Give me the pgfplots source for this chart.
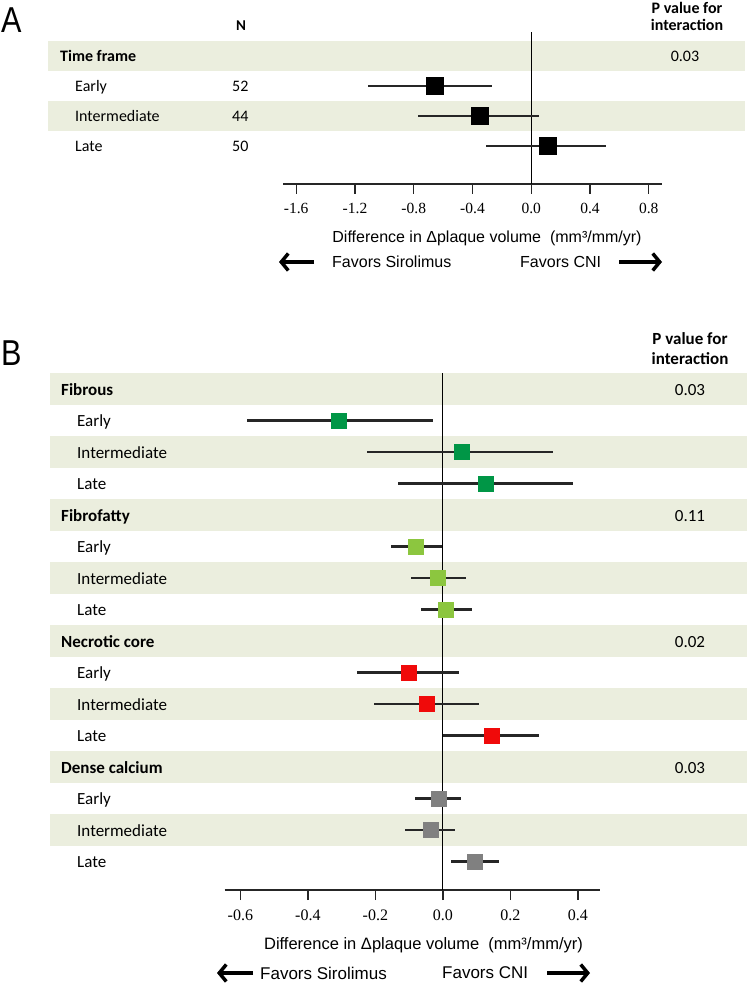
\documentclass[border=0pt]{standalone}
\usepackage{pgfplots}
\pgfplotsset{compat=1.18}
\usepackage{pgfplotstable}
\usepackage{fontspec}
\setmainfont{Carlito}
\newfontfamily\arialf{Liberation Sans}
\newfontfamily\tnrf{Liberation Serif}
\usetikzlibrary{arrows.meta}
\definecolor{band}{RGB}{235,238,222}
\definecolor{dgreen}{RGB}{0,150,70}
\definecolor{lgreen}{RGB}{140,198,63}
\definecolor{nred}{RGB}{240,10,10}
\definecolor{cgray}{RGB}{128,128,128}

% Panel A: time frame (y = -row index)
\pgfplotstableread{
x     y   em    ep
-0.66 -1  0.45  0.39
-0.35 -2  0.42  0.40
0.11  -3  0.42  0.40
}\dataA
% Panel B
\pgfplotstableread{
x      y    em     ep
-0.310 -1   0.270  0.280
0.055  -2   0.280  0.272
0.126  -3   0.260  0.260
}\fibrous
\pgfplotstableread{
x      y    em     ep
-0.081 -5   0.073  0.078
-0.014 -6   0.081  0.082
0.007  -7   0.072  0.079
}\fibrofatty
\pgfplotstableread{
x      y    em     ep
-0.102 -9   0.153  0.149
-0.049 -10  0.155  0.155
0.146  -11  0.146  0.138
}\necrotic
\pgfplotstableread{
x      y    em     ep
-0.013 -13  0.071  0.068
-0.035 -14  0.078  0.072
0.093  -15  0.068  0.074
}\calcium

\pgfplotsset{
  forest/.style={
    scale only axis, clip=false,
    axis x line=bottom, axis y line=none,
    x axis line style={-, line width=1.3pt, black!85},
    tick align=outside, major tick length=10pt,
    xtick style={line width=1.3pt, black!85},
    ytick=\empty,
    /pgf/number format/fixed, /pgf/number format/fixed zerofill,
    /pgf/number format/precision=1, /pgf/number format/assume math mode=true,
  },
  ci/.style={only marks, mark=square*,
    error bars/x dir=both, error bars/x explicit, error bars/error mark=none,
    error bars/error bar style={line width=2.5pt, black!85}},
}

\begin{document}
\begin{tikzpicture}
\path[use as bounding box] (0,0) rectangle (749pt,-984pt);

% ---------------- Panel A ----------------
\fill[band] (48pt,-41pt) rectangle (745pt,-71pt);
\fill[band] (48pt,-101pt) rectangle (745pt,-131pt);
\node[anchor=base west, font=\arialf\fontsize{36}{36}\selectfont, inner sep=0pt, xscale=0.85] at (1pt,-33pt) {A};

\begin{axis}[forest, at={(283pt,-184pt)}, anchor=south west,
  width=379pt, height=152pt,
  xmin=-1.69, xmax=0.89, ymin=-4.27, ymax=0.8,
  xtick={-1.6,-1.2,-0.8,-0.4,0,0.4,0.8},
  xticklabel style={font=\tnrf\fontsize{15.5}{15.5}\selectfont, yshift=-6pt},
]
\draw[black, line width=0.9pt] (axis cs:0,-4.27) -- (axis cs:0,0.8);
\addplot+[ci, mark size=8.5pt, mark options={fill=black, draw=black}]
  table[x=x, y=y, x error minus=em, x error plus=ep] {\dataA};
\end{axis}

\begin{scope}[font=\fontsize{16}{16}\selectfont]
\node[anchor=base west, inner sep=0pt, font=\bfseries\fontsize{16}{16}\selectfont] at (60pt,-62pt) {Time frame};
\node[anchor=base west, inner sep=0pt] at (75pt,-92pt) {Early};
\node[anchor=base west, inner sep=0pt] at (75pt,-122pt) {Intermediate};
\node[anchor=base west, inner sep=0pt] at (75pt,-152pt) {Late};
\node[anchor=base, inner sep=0pt, font=\bfseries\fontsize{15}{15}\selectfont] at (241pt,-31pt) {N};
\node[anchor=base west, inner sep=0pt] at (232pt,-92pt) {52};
\node[anchor=base west, inner sep=0pt] at (232pt,-122pt) {44};
\node[anchor=base west, inner sep=0pt] at (232pt,-152pt) {50};
\node[anchor=base, inner sep=0pt, font=\bfseries\fontsize{16}{16}\selectfont] at (687pt,-14pt) {P value for};
\node[anchor=base, inner sep=0pt, font=\bfseries\fontsize{16}{16}\selectfont] at (687pt,-31pt) {interaction};
\node[anchor=base, inner sep=0pt] at (685pt,-62pt) {0.03};
\end{scope}

\node[font=\arialf\fontsize{16}{16}\selectfont, inner sep=0pt] at (487pt,-238pt) {Difference in Δplaque volume\ \ (mm³/mm/yr)};
\draw[line width=3.5pt, -{Straight Barb[length=7pt,width=17pt]}] (314pt,-262pt) -- (279pt,-262pt);
\draw[line width=3.5pt, -{Straight Barb[length=7pt,width=17pt]}] (619pt,-262pt) -- (662pt,-262pt);
\node[anchor=west, inner sep=0pt, font=\arialf\fontsize{16}{16}\selectfont] at (332pt,-262pt) {Favors Sirolimus};
\node[anchor=west, inner sep=0pt, font=\arialf\fontsize{16}{16}\selectfont] at (520pt,-262pt) {Favors CNI};

% ---------------- Panel B ----------------
\foreach \k in {0,2,...,14} {
  \fill[band] (50pt,{-(389+31.5*\k-15.75)*1pt}) rectangle (747pt,{-(389+31.5*\k+15.75)*1pt});
}
\node[anchor=base west, font=\arialf\fontsize{36}{36}\selectfont, inner sep=0pt, xscale=0.85] at (1pt,-365pt) {B};

\begin{axis}[forest, at={(224.5pt,-890pt)}, anchor=south west,
  width=375pt, height=517pt,
  xmin=-0.647, xmax=0.464, ymin=-15.905, ymax=0.508,
  xtick={-0.6,-0.4,-0.2,0,0.2,0.4},
  xticklabel style={font=\tnrf\fontsize{16}{16}\selectfont, yshift=-6pt},
]
\draw[black, line width=0.9pt] (axis cs:0,-15.905) -- (axis cs:0,0.508);
\addplot+[ci, mark size=7.5pt, mark options={fill=dgreen, draw=dgreen}]
  table[x=x, y=y, x error minus=em, x error plus=ep] {\fibrous};
\addplot+[ci, mark size=7.5pt, mark options={fill=lgreen, draw=lgreen}]
  table[x=x, y=y, x error minus=em, x error plus=ep] {\fibrofatty};
\addplot+[ci, mark size=7.5pt, mark options={fill=nred, draw=nred}]
  table[x=x, y=y, x error minus=em, x error plus=ep] {\necrotic};
\addplot+[ci, mark size=7.5pt, mark options={fill=cgray, draw=cgray}]
  table[x=x, y=y, x error minus=em, x error plus=ep] {\calcium};
\end{axis}

\begin{scope}[font=\fontsize{17}{17}\selectfont]
\node[anchor=base, inner sep=0pt, font=\bfseries\fontsize{17}{17}\selectfont] at (690pt,-344pt) {P value for};
\node[anchor=base, inner sep=0pt, font=\bfseries\fontsize{17}{17}\selectfont] at (690pt,-364pt) {interaction};
\foreach \k/\name/\p in {0/Fibrous/0.03, 4/Fibrofatty/0.11, 8/Necrotic core/0.02, 12/Dense calcium/0.03} {
  \node[anchor=base west, inner sep=0pt, font=\bfseries\fontsize{17}{17}\selectfont] at (61pt,{-(389+31.5*\k+6)*1pt}) {\name};
  \node[anchor=base, inner sep=0pt] at (690pt,{-(389+31.5*\k+6)*1pt}) {\p};
}
\foreach \k/\name in {1/Early,2/Intermediate,3/Late,5/Early,6/Intermediate,7/Late,9/Early,10/Intermediate,11/Late,13/Early,14/Intermediate,15/Late} {
  \node[anchor=base west, inner sep=0pt] at (77pt,{-(389+31.5*\k+6)*1pt}) {\name};
}
\end{scope}

\node[font=\arialf\fontsize{16.5}{16.5}\selectfont, inner sep=0pt] at (423.5pt,-945pt) {Difference in Δplaque volume\ \ (mm³/mm/yr)};
\draw[line width=3.5pt, -{Straight Barb[length=7pt,width=17pt]}] (253pt,-973pt) -- (217pt,-973pt);
\draw[line width=3.5pt, -{Straight Barb[length=7pt,width=17pt]}] (547pt,-973pt) -- (590pt,-973pt);
\node[anchor=west, inner sep=0pt, font=\arialf\fontsize{17}{17}\selectfont] at (260pt,-973pt) {Favors Sirolimus};
\node[anchor=west, inner sep=0pt, font=\arialf\fontsize{17}{17}\selectfont] at (442pt,-973pt) {Favors CNI};
\end{tikzpicture}
\end{document}
